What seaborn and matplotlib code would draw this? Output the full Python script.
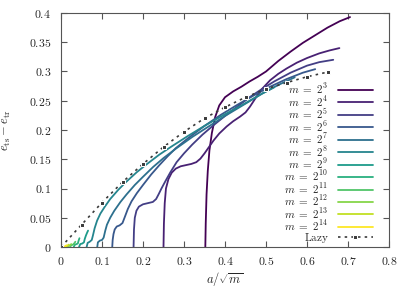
import numpy as np
import pandas as pd
import matplotlib
matplotlib.use("Agg")
import matplotlib.pyplot as plt
import seaborn as sns
from matplotlib.ticker import FuncFormatter, MultipleLocator

# courbes : x = a/sqrt(m), y = e_ts - e_tr
x_m3 = [0.352, 0.353, 0.355, 0.358, 0.362, 0.368, 0.376, 0.386, 0.40, 0.42, 0.44, 0.46, 0.48, 0.50,
        0.53, 0.56, 0.59, 0.62, 0.65, 0.68, 0.705]
y_m3 = [0, 0.04, 0.09, 0.13, 0.165, 0.195, 0.222, 0.242, 0.256, 0.266, 0.274, 0.283, 0.291, 0.30,
        0.318, 0.334, 0.349, 0.362, 0.375, 0.386, 0.393]

x_m4 = [0.25, 0.251, 0.253, 0.256, 0.262, 0.27, 0.28, 0.292, 0.305, 0.318, 0.33, 0.34, 0.35, 0.36,
        0.372, 0.386, 0.404, 0.42, 0.437, 0.45, 0.461, 0.475, 0.49, 0.51, 0.53, 0.55, 0.575, 0.6,
        0.63, 0.655, 0.679]
y_m4 = [0, 0.04, 0.075, 0.1, 0.116, 0.127, 0.134, 0.138, 0.14, 0.142, 0.145, 0.151, 0.16, 0.17,
        0.182, 0.194, 0.206, 0.215, 0.223, 0.23, 0.24, 0.255, 0.27, 0.285, 0.296, 0.305, 0.315, 0.323,
        0.331, 0.336, 0.34]

x_m5 = [0.177, 0.178, 0.18, 0.184, 0.19, 0.2, 0.212, 0.224, 0.232, 0.238, 0.245, 0.255, 0.267, 0.282,
        0.30, 0.32, 0.345, 0.37, 0.40, 0.43, 0.46, 0.49, 0.52, 0.56, 0.6, 0.63, 0.664]
y_m5 = [0, 0.03, 0.05, 0.062, 0.069, 0.073, 0.075, 0.077, 0.082, 0.09, 0.1, 0.113, 0.128, 0.145,
        0.16, 0.175, 0.192, 0.207, 0.224, 0.24, 0.256, 0.27, 0.283, 0.298, 0.31, 0.316, 0.32]

x_m6 = [0.125, 0.126, 0.128, 0.131, 0.136, 0.143, 0.15, 0.156, 0.163, 0.172, 0.185, 0.2, 0.22, 0.24,
        0.26, 0.28, 0.31, 0.35, 0.39, 0.43, 0.47, 0.51, 0.55, 0.59, 0.62]
y_m6 = [0, 0.012, 0.022, 0.03, 0.035, 0.037, 0.041, 0.052, 0.065, 0.078, 0.092, 0.106, 0.124, 0.14,
        0.155, 0.169, 0.186, 0.207, 0.226, 0.243, 0.259, 0.274, 0.287, 0.298, 0.304]

x_m7 = [0.0884, 0.09, 0.095, 0.10, 0.104, 0.108, 0.112, 0.12, 0.13, 0.145, 0.16, 0.18, 0.2, 0.225,
        0.25, 0.28, 0.32, 0.36, 0.40, 0.45, 0.49, 0.53, 0.57]
y_m7 = [0, 0.008, 0.011, 0.012, 0.016, 0.028, 0.038, 0.05, 0.062, 0.077, 0.09, 0.106, 0.12, 0.137,
        0.152, 0.168, 0.188, 0.206, 0.224, 0.245, 0.262, 0.277, 0.29]

x_m8 = [0.0625, 0.065, 0.07, 0.075, 0.078, 0.082, 0.088, 0.096, 0.106, 0.12, 0.14, 0.16, 0.185, 0.21,
        0.24, 0.27, 0.31, 0.35, 0.40, 0.45, 0.49, 0.52]
y_m8 = [0, 0.007, 0.009, 0.012, 0.02, 0.032, 0.045, 0.057, 0.068, 0.082, 0.098, 0.112, 0.128, 0.142,
        0.158, 0.172, 0.19, 0.207, 0.227, 0.246, 0.262, 0.273]

x_m9 = [0.044, 0.047, 0.052, 0.056, 0.058, 0.061, 0.064, 0.066]
y_m9 = [0, 0.005, 0.006, 0.008, 0.014, 0.02, 0.025, 0.028]

x_m10 = [0.031, 0.034, 0.038, 0.041, 0.043, 0.045]
y_m10 = [0, 0.004, 0.005, 0.006, 0.011, 0.015]

x_m11 = [0.022, 0.025, 0.029, 0.032, 0.035]
y_m11 = [0, 0.003, 0.004, 0.006, 0.009]

x_m12 = [0.0156, 0.019, 0.022, 0.025]
y_m12 = [0, 0.002, 0.003, 0.005]

x_m13 = [0.011, 0.015, 0.019]
y_m13 = [0, 0.002, 0.004]

x_m14 = [0.0078, 0.011, 0.014]
y_m14 = [0, 0.002, 0.003]

x_lazy = [0, 0.05, 0.1, 0.15, 0.2, 0.25, 0.3, 0.35, 0.4, 0.45, 0.5, 0.55, 0.6, 0.65]
y_lazy = [0, 0.038, 0.076, 0.111, 0.142, 0.171, 0.197, 0.220, 0.239, 0.256, 0.270, 0.281, 0.291, 0.299]

exposants = [3, 4, 5, 6, 7, 8, 9, 10, 11, 12, 13, 14]
courbes = [(x_m3, y_m3), (x_m4, y_m4), (x_m5, y_m5), (x_m6, y_m6), (x_m7, y_m7), (x_m8, y_m8),
           (x_m9, y_m9), (x_m10, y_m10), (x_m11, y_m11), (x_m12, y_m12), (x_m13, y_m13), (x_m14, y_m14)]

sns.set_style("ticks")
plt.rcParams["mathtext.fontset"] = "cm"
plt.rcParams["font.family"] = ["DejaVu Serif"]

couleurs = [plt.cm.viridis(v) for v in np.linspace(0, 1, len(exposants))]

fig = plt.figure(figsize=(4.11, 2.88), dpi=100)
ax = fig.add_axes([61 / 411, 1 - 247 / 288, (389 - 61) / 411, (247 - 13) / 288])

for k, (xs, ys), c in zip(exposants, courbes, couleurs):
    df = pd.DataFrame({"a": xs, "gap": ys})
    sns.lineplot(data=df, x="a", y="gap", color=c, lw=1.3, sort=False, estimator=None,
                 label=rf"$m\ =\ 2^{{{k}}}$", ax=ax)

df_lazy = pd.DataFrame({"a": x_lazy, "gap": y_lazy})
sns.lineplot(data=df_lazy, x="a", y="gap", color="#3a3a3a", lw=1.2, dashes=False, sort=False,
             estimator=None, label=r"$\mathrm{Lazy}$", ax=ax)
ax.lines[-1].set_linestyle((0, (1.5, 2.5)))
ax.lines[-1].set_marker("s")
ax.lines[-1].set_markersize(3.5)

ax.set_xlim(0, 0.8)
ax.set_ylim(0, 0.4)
ax.xaxis.set_major_locator(MultipleLocator(0.1))
ax.yaxis.set_major_locator(MultipleLocator(0.05))
fmt = FuncFormatter(lambda v, p: f"${v:g}$")
ax.xaxis.set_major_formatter(fmt)
ax.yaxis.set_major_formatter(fmt)
ax.tick_params(direction="in", length=4, width=0.8, color="#555555", labelsize=8.5,
               top=True, right=True)
ax.tick_params(axis="y", pad=7)
ax.tick_params(axis="x", pad=6)
for s in ax.spines.values():
    s.set_color("#555555")
    s.set_linewidth(0.8)

ax.set_xlabel(r"$a/\sqrt{m}$", fontsize=9)
ax.set_ylabel(r"$e_{\mathrm{ts}} - e_{\mathrm{tr}}$", fontsize=9)
ax.xaxis.set_label_coords(0.5, -0.1)
ax.yaxis.set_label_coords(-0.145, 0.5)

leg = ax.legend(loc="lower right", bbox_to_anchor=(0.965, -0.01), markerfirst=False, frameon=False,
                fontsize=8, handlelength=3.2, handletextpad=0.8, labelspacing=-0.2,
                borderaxespad=0.0)

fig.savefig("out.png", dpi=100)
